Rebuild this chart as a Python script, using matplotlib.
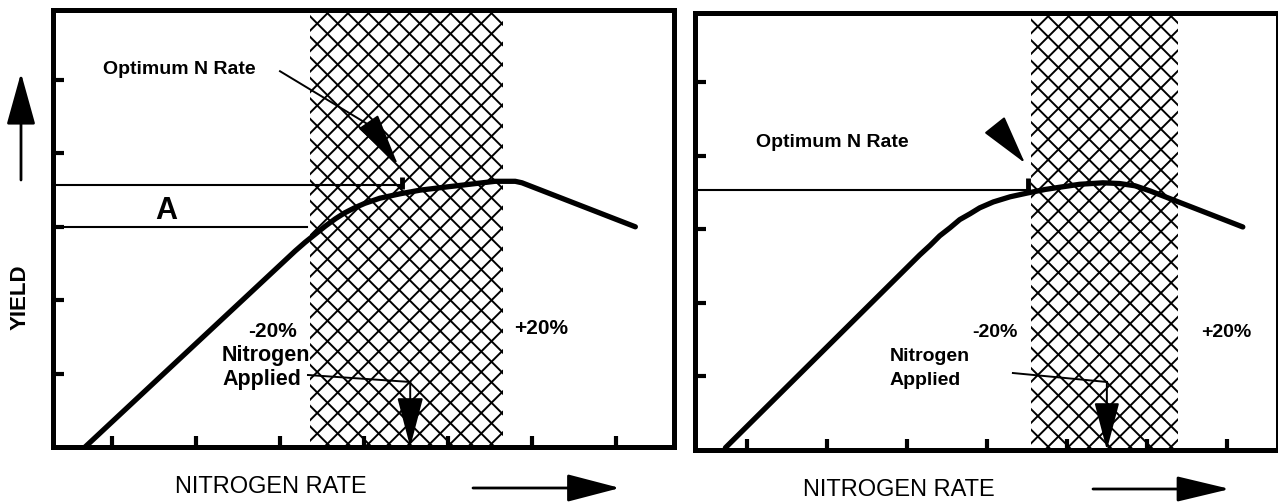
import matplotlib
matplotlib.use('Agg')
import matplotlib.pyplot as plt
import numpy as np
from matplotlib.collections import LineCollection
from matplotlib.transforms import IdentityTransform, Bbox

plt.rcParams['font.family'] = ['Liberation Sans', 'DejaVu Sans']

# ---------------- data ----------------
x_ticks = [1, 2, 3, 4, 5, 6, 7]
y_ticks = [1, 2, 3, 4, 5]

# left panel response curve (nitrogen rate vs yield, arbitrary units)
left_rate = [0.68, 3.18, 3.30, 3.42, 3.54, 3.66, 3.77, 3.89, 4.01, 4.19, 4.43, 4.67,
             4.96, 5.26, 5.56, 5.80, 5.88, 7.23]
left_yield = [0.00, 2.67, 2.79, 2.90, 3.01, 3.11, 3.19, 3.26, 3.32, 3.39, 3.45, 3.50,
              3.54, 3.58, 3.62, 3.62, 3.60, 3.00]
left_band = [3.36, 5.65]          # -20% .. +20% band
left_optimum_rate = 4.45
left_optimum_yield = 3.57
left_A_low = 3.00
left_A_low_end = 3.32
left_applied_rate = 4.55

# right panel response curve
right_rate = [0.73, 3.16, 3.29, 3.41, 3.54, 3.66, 3.79, 3.91, 4.08, 4.29, 4.50, 4.73,
              4.91, 5.16, 5.45, 5.66, 5.85, 6.04, 6.23, 7.20]
right_yield = [0.03, 2.65, 2.78, 2.91, 3.02, 3.13, 3.21, 3.29, 3.37, 3.44, 3.49, 3.54,
               3.57, 3.61, 3.63, 3.62, 3.59, 3.52, 3.44, 3.03]
right_band = [4.55, 6.39]
right_optimum_rate = 4.51
right_optimum_yield = 3.53
right_applied_rate = 5.50

W, H = 1278, 503
fig = plt.figure(figsize=(W / 100, H / 100), dpi=100)
fig.patch.set_facecolor('white')

axL = fig.add_axes([53 / W, (H - 447) / H, (674 - 53) / W, (447 - 10) / H])
axR = fig.add_axes([695 / W, (H - 450) / H, (1278 - 695) / W, (450 - 13) / H])
axL.set_xlim(0.298, 7.69)
axL.set_ylim(0, 5.954)
axR.set_xlim(0.35, 7.64)
axR.set_ylim(0, 5.937)


def style(ax):
    for s in ax.spines.values():
        s.set_linewidth(3.6)
        s.set_capstyle('projecting')
        s.set_zorder(6)
    ax.set_xticks(x_ticks)
    ax.set_yticks(y_ticks)
    ax.tick_params(direction='in', length=8, width=3.0, labelbottom=False,
                   labelleft=False, top=False, right=False, color='black')
    ax.set_facecolor('none')


def crosshatch(ax, lo, hi, spacing=20.5, lw=1.4):
    y0, y1 = ax.get_ylim()
    px0, py0 = ax.transData.transform((lo, y0))
    px1, py1 = ax.transData.transform((hi, y1))
    h = py1 - py0
    segs = []
    for c in np.arange(px0 - h, px1 + h, spacing):
        segs.append([(c, py0), (c + h, py1)])
        segs.append([(c, py1), (c + h, py0)])
    lc = LineCollection(segs, colors='black', linewidths=lw,
                        transform=IdentityTransform(), zorder=1)
    ax.add_collection(lc, autolim=False)
    lc.set_clip_path(None)
    lc.set_clip_box(Bbox([[px0, py0], [px1, py1]]))


def head(ax, start, tip, length_px, half_w_px, lw=1.4, coords='data'):
    ax.annotate('', xy=tip, xytext=start, xycoords=coords, textcoords=coords,
                annotation_clip=False,
                arrowprops=dict(arrowstyle='-|>,head_length=%.3f,head_width=%.3f'
                                % (length_px * 0.72 / 10, half_w_px * 0.72 / 10),
                                mutation_scale=10, color='black', lw=lw,
                                shrinkA=0, shrinkB=0))


bold = dict(fontweight='bold', color='black')

# ---------------- left panel ----------------
style(axL)
crosshatch(axL, left_band[0], left_band[1])
axL.plot(left_rate, left_yield, color='black', lw=3.8, solid_capstyle='round',
         solid_joinstyle='round', zorder=4)
axL.plot([0.298, left_optimum_rate - 0.02], [left_optimum_yield] * 2, color='black', lw=1.5, zorder=3)
axL.plot([0.298, left_A_low_end], [left_A_low] * 2, color='black', lw=1.5, zorder=3)
axL.plot([left_optimum_rate] * 2, [3.52, 3.68], color='black', lw=3.5, solid_capstyle='butt', zorder=4)
axL.text(1.64, 3.215, 'A', fontsize=22, ha='center', va='center', **bold)
axL.text(1.80, 5.15, 'Optimum N Rate', fontsize=14, ha='center', va='center', **bold)
axL.plot([3.00, 4.089], [5.12, 4.367], color='black', lw=1.4, zorder=3)
head(axL, (4.089, 4.367), (4.405, 3.842), 47, 10.5)
axL.text(2.905, 1.567, '-20%', fontsize=15, ha='center', va='center', **bold)
axL.text(6.107, 1.608, '+20%', fontsize=15, ha='center', va='center', **bold)
axL.text(2.31, 1.24, 'Nitrogen', fontsize=15.5, ha='left', va='center', **bold)
axL.text(2.31, 0.913, 'Applied', fontsize=15.5, ha='left', va='center', **bold)
axL.plot([3.333, left_applied_rate], [0.981, 0.886], color='black', lw=1.4, zorder=3)
head(axL, (left_applied_rate, 0.886), (left_applied_rate, 0.0), 44, 11.5)

# ---------------- right panel ----------------
style(axR)
crosshatch(axR, right_band[0], right_band[1])
axR.plot(right_rate, right_yield, color='black', lw=3.8, solid_capstyle='round',
         solid_joinstyle='round', zorder=4)
axR.plot([0.35, right_optimum_rate], [right_optimum_yield] * 2, color='black', lw=1.5, zorder=3)
axR.plot([right_optimum_rate] * 2, [3.50, 3.70], color='black', lw=3.5, solid_capstyle='butt', zorder=4)
axR.text(2.0625, 4.171, 'Optimum N Rate', fontsize=14, ha='center', va='center', **bold)
head(axR, (4.131, 4.368), (4.475, 3.899), 44, 11.5)
axR.text(4.10, 1.59, '-20%', fontsize=14, ha='center', va='center', **bold)
axR.text(6.99, 1.59, '+20%', fontsize=14, ha='center', va='center', **bold)
axR.text(2.7875, 1.264, 'Nitrogen', fontsize=14, ha='left', va='center', **bold)
axR.text(2.7875, 0.951, 'Applied', fontsize=14, ha='left', va='center', **bold)
axR.plot([4.325, right_applied_rate], [1.046, 0.924], color='black', lw=1.4, zorder=3)
head(axR, (right_applied_rate, 0.924), (right_applied_rate, 0.0), 42, 11)

# ---------------- outside labels ----------------
fig.text(20 / W, 206 / H, 'YIELD', rotation=90, fontsize=16, ha='center', va='center', **bold)
head(axL, (21, 323), (21, 430), 45, 12.5, lw=2.0, coords='figure pixels')
fig.text(175 / W, 16 / H, 'NITROGEN RATE', fontsize=17, ha='left', va='center', color='black')
head(axL, (473, 15), (620, 15), 46, 12, lw=2.0, coords='figure pixels')
fig.text(803 / W, 13 / H, 'NITROGEN RATE', fontsize=17, ha='left', va='center', color='black')
head(axR, (1093, 14), (1230, 14), 46, 11, lw=2.0, coords='figure pixels')

fig.savefig('out.png', dpi=100, facecolor='white')
